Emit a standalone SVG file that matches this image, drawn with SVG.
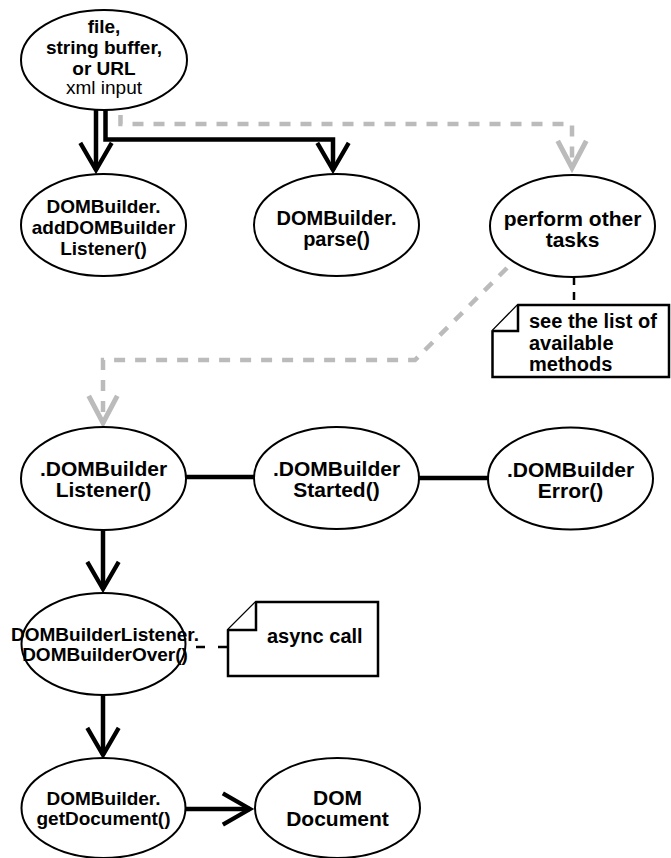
<svg xmlns="http://www.w3.org/2000/svg" width="671" height="858" viewBox="0 0 671 858">
<style>
.node ellipse{fill:#fff;stroke:#000;stroke-width:2}
.note path{fill:#fff;stroke:#000;stroke-width:2.5;stroke-linejoin:miter}
text{font-family:"Liberation Sans",Arial,Helvetica,sans-serif;font-weight:bold;fill:#000}
.c{text-anchor:middle}
.n{font-weight:normal}
.solid{fill:none;stroke:#000;stroke-width:4.5}
.gray{fill:none;stroke:#bbb;stroke-width:4.5;stroke-dasharray:11 10}
.dash{fill:none;stroke:#000;stroke-width:2.5;stroke-dasharray:8 7}
</style>
<defs>
<marker id="ab" markerUnits="userSpaceOnUse" orient="auto" refX="0" refY="0" markerWidth="40" markerHeight="40" viewBox="-22 -14 24 28" overflow="visible">
<path d="M-19,-11 L0,0 L-19,11" fill="none" stroke="#000" stroke-width="3"/>
</marker>
<marker id="ag" markerUnits="userSpaceOnUse" orient="auto" refX="0" refY="0" markerWidth="40" markerHeight="40" viewBox="-22 -14 24 28" overflow="visible">
<path d="M-19,-10 L0,0 L-19,10" fill="none" stroke="#bbb" stroke-width="3.5"/>
</marker>
</defs>
<rect width="671" height="858" fill="#fff"/>
<g id="connectors">
<path class="solid" d="M96,109 L96,170" marker-end="url(#ab)"/>
<path class="solid" d="M105.5,109 L105.5,139.5 L333,139.5 L333,170" marker-end="url(#ab)"/>
<path class="gray" d="M120.5,115 L120.5,124 L572,124 L572,168" marker-end="url(#ag)"/>
<path class="gray" d="M507,268 L415,360 L103,360 L103,423" marker-end="url(#ag)"/>
<path class="dash" d="M574,277 L574,305"/>
<path class="solid" d="M186,477 L254,477"/>
<path class="solid" d="M419,478 L488,478"/>
<path class="solid" d="M103,530 L103,589" marker-end="url(#ab)"/>
<path class="dash" d="M196,647 L228,647" style="stroke-dasharray:9 13"/>
<path class="solid" d="M103,695 L103,755" marker-end="url(#ab)"/>
<path class="solid" d="M185,809 L250,809" marker-end="url(#ab)"/>
</g>
<g id="input" class="node">
<ellipse cx="104" cy="60" rx="83" ry="50"/>
<text class="c" x="104" y="33" font-size="19">file,</text>
<text class="c" x="104" y="54" font-size="19">string buffer,</text>
<text class="c" x="104" y="75" font-size="19">or URL</text>
<text class="c n" x="104" y="94" font-size="19">xml input</text>
</g>
<g id="addListener" class="node">
<ellipse cx="103.5" cy="225" rx="82.5" ry="51"/>
<text class="c" x="103.5" y="213" font-size="19">DOMBuilder.</text>
<text class="c" x="103.5" y="234" font-size="19">addDOMBuilder</text>
<text class="c" x="103.5" y="255" font-size="19">Listener()</text>
</g>
<g id="parse" class="node">
<ellipse cx="336.5" cy="225" rx="82.5" ry="51"/>
<text class="c" x="336.5" y="225" font-size="20">DOMBuilder.</text>
<text class="c" x="336.5" y="246" font-size="20">parse()</text>
</g>
<g id="perform" class="node">
<ellipse cx="572.5" cy="226" rx="82.5" ry="51"/>
<text class="c" x="572.5" y="226" font-size="21">perform other</text>
<text class="c" x="572.5" y="247" font-size="21">tasks</text>
</g>
<g id="note1" class="note">
<path d="M518,305 L669,305 L669,377 L492.5,377 L492.5,331 Z"/>
<path d="M518,305 L518,331 L492.5,331" fill="none"/>
<text x="529" y="328" font-size="20">see the list of</text>
<text x="529" y="350" font-size="20">available</text>
<text x="529" y="371" font-size="20">methods</text>
</g>
<g id="listener" class="node">
<ellipse cx="103.5" cy="478.5" rx="82.5" ry="51.5"/>
<text class="c" x="103.5" y="476" font-size="21">.DOMBuilder</text>
<text class="c" x="103.5" y="497" font-size="21">Listener()</text>
</g>
<g id="started" class="node">
<ellipse cx="336.5" cy="478" rx="82.5" ry="51"/>
<text class="c" x="336.5" y="476" font-size="21">.DOMBuilder</text>
<text class="c" x="336.5" y="497" font-size="21">Started()</text>
</g>
<g id="error" class="node">
<ellipse cx="570.5" cy="478.5" rx="82.5" ry="51"/>
<text class="c" x="570.5" y="477" font-size="21">.DOMBuilder</text>
<text class="c" x="570.5" y="498" font-size="21">Error()</text>
</g>
<g id="over" class="node">
<ellipse cx="103.5" cy="644" rx="82" ry="51"/>
<text class="c" x="105" y="641" font-size="19">DOMBuilderListener.</text>
<text class="c" x="105" y="661" font-size="19">DOMBuilderOver()</text>
</g>
<g id="note2" class="note">
<path d="M256,602 L378,602 L378,676 L228,676 L228,630 Z"/>
<path d="M256,602 L256,630 L228,630" fill="none"/>
<text x="267" y="643" font-size="20">async call</text>
</g>
<g id="getDocument" class="node">
<ellipse cx="103.5" cy="808" rx="82" ry="50"/>
<text class="c" x="103.5" y="805" font-size="19">DOMBuilder.</text>
<text class="c" x="103.5" y="825" font-size="19">getDocument()</text>
</g>
<g id="domDocument" class="node">
<ellipse cx="337.5" cy="808" rx="82.5" ry="50"/>
<text class="c" x="337.5" y="805" font-size="21">DOM</text>
<text class="c" x="337.5" y="826" font-size="21">Document</text>
</g>
</svg>
